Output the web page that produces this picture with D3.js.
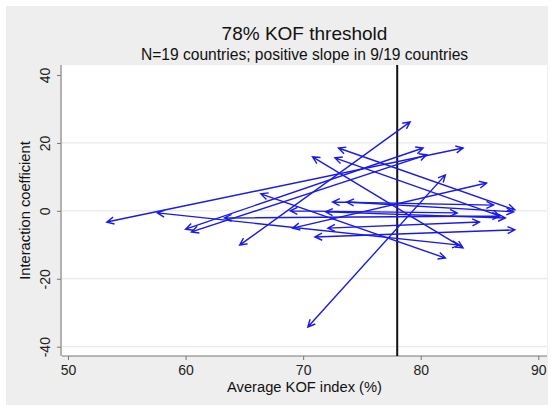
<!DOCTYPE html>
<html><head><meta charset="utf-8">
<script src="https://cdn.jsdelivr.net/npm/d3@7"></script>
<style>body{margin:0;background:#fff}svg{display:block;font-family:Arial,"Liberation Sans",sans-serif}</style>
</head><body><div id="chart"></div>
<script>
// Data
const kofStart  = [53.3, 64.6, 70.4, 57.6, 60.0, 60.5, 66.4, 72.5, 73.0, 70.8, 69.1, 71.0, 72.1, 71.9, 72.7, 73.7, 68.9, 63.3];
const coefStart = [-3.3, -10.1, -34.2, -0.6, -5.4, -6.2, 5.0, 2.6, 18.5, 15.9, -5.1, -7.7, -5.1, -0.3, 15.6, 2.6, 0.0, -2.1];
const kofEnd    = [83.6, 79.1, 82.1, 83.3, 80.2, 80.5, 82.1, 86.2, 88.0, 83.6, 85.6, 88.0, 85.0, 87.2, 86.7, 87.9, 83.1, 86.7];
const coefEnd   = [18.5, 26.2, 10.6, -10.1, 18.5, 16.5, -13.9, 1.7, 0.3, -10.9, 8.2, -5.6, -3.3, -2.1, -1.5, -0.3, -0.6, -1.5];
const xTicks = [50, 60, 70, 80, 90];
const yTicks = [-40, -20, 0, 20, 40];
const gridVals = [-40, -20, 0, 20];
const threshold = 78;
const titleText = "78% KOF threshold";
const subtitleText = "N=19 countries; positive slope in 9/19 countries";
const xTitle = "Average KOF index (%)";
const yTitle = "Interaction coefficient";

const W = 551, H = 405;
const plot = {l: 62, r: 547, t: 65, b: 356};
const FONT = "Arial, 'Liberation Sans', sans-serif";
const svg = d3.select("#chart").append("svg").attr("width", W).attr("height", H);
svg.append("rect").attr("x", 6).attr("y", 6).attr("width", 542).attr("height", 399).attr("fill", "#eeeeee");
svg.append("rect").attr("x", plot.l).attr("y", plot.t).attr("width", plot.r - plot.l).attr("height", plot.b - plot.t).attr("fill", "#ffffff");

const x = d3.scaleLinear().domain([50, 90]).range([68, 538.3]);
const y = d3.scaleLinear().domain([-40, 40]).range([346.7, 75]);

// gridlines
svg.append("g").selectAll("line").data(gridVals).join("line")
  .attr("x1", plot.l).attr("x2", plot.r)
  .attr("y1", d => y(d)).attr("y2", d => y(d))
  .attr("stroke", "#e4e4e4").attr("stroke-width", 1);

// axes
const fmt = d => String(d);
const xAxis = d3.axisBottom(x).tickValues(xTicks).tickSize(4).tickPadding(5).tickFormat(fmt);
const gx = svg.append("g").attr("transform", `translate(0,${plot.b})`).call(xAxis);
gx.select(".domain").attr("d", `M${plot.l},0H${plot.r}`).attr("stroke", "#777");
gx.selectAll(".tick line").attr("stroke", "#777");
gx.selectAll(".tick text").attr("font-size", 14).attr("fill", "#222").attr("font-family", FONT);

const yAxis = d3.axisLeft(y).tickValues(yTicks).tickSize(4).tickFormat(fmt);
const gy = svg.append("g").attr("transform", `translate(${plot.l - 1},0)`).call(yAxis);
gy.select(".domain").attr("d", `M0,${plot.t}V${plot.b}`).attr("stroke", "#777");
gy.selectAll(".tick line").attr("stroke", "#777");
gy.selectAll(".tick text").attr("font-size", 14).attr("fill", "#222")
  .attr("font-family", FONT)
  .attr("text-anchor", "middle").attr("x", 0).attr("y", 0).attr("dy", 0)
  .attr("transform", "translate(-11,0) rotate(-90)");

// threshold line
svg.append("line").attr("x1", x(threshold)).attr("x2", x(threshold))
  .attr("y1", plot.t).attr("y2", plot.b).attr("stroke", "#111").attr("stroke-width", 2);

// arrows (heads at both ends)
const data = kofStart.map((d, i) => ({x0: kofStart[i], y0: coefStart[i], x1: kofEnd[i], y1: coefEnd[i]}));
const headLen = 8, headAng = 26 * Math.PI / 180;
function head(px, py, qx, qy) {
  const a = Math.atan2(py - qy, px - qx);
  const p1 = [px - headLen * Math.cos(a - headAng), py - headLen * Math.sin(a - headAng)];
  const p2 = [px - headLen * Math.cos(a + headAng), py - headLen * Math.sin(a + headAng)];
  return `M${p1[0]},${p1[1]}L${px},${py}L${p2[0]},${p2[1]}`;
}
svg.append("g").selectAll("path").data(data).join("path")
  .attr("d", d => {
    const ax = x(d.x0), ay = y(d.y0), bx = x(d.x1), by = y(d.y1);
    return `M${ax},${ay}L${bx},${by}` + head(bx, by, ax, ay) + head(ax, ay, bx, by);
  })
  .attr("fill", "none").attr("stroke", "#1a1ae8").attr("stroke-width", 1.4)
  .attr("stroke-linejoin", "miter");

// titles
const cx = (plot.l + plot.r) / 2;
svg.append("text").attr("x", cx).attr("y", 40).attr("text-anchor", "middle")
  .attr("font-size", 19).attr("fill", "#111").text(titleText);
svg.append("text").attr("x", cx).attr("y", 60).attr("text-anchor", "middle")
  .attr("font-size", 15.6).attr("fill", "#111").text(subtitleText);
svg.append("text").attr("x", cx).attr("y", 392).attr("text-anchor", "middle")
  .attr("font-size", 14.7).attr("fill", "#111").text(xTitle);
svg.append("text").attr("transform", `translate(30,${(plot.t + plot.b) / 2}) rotate(-90)`)
  .attr("text-anchor", "middle").attr("font-size", 14.7).attr("fill", "#111").text(yTitle);
</script></body></html>
